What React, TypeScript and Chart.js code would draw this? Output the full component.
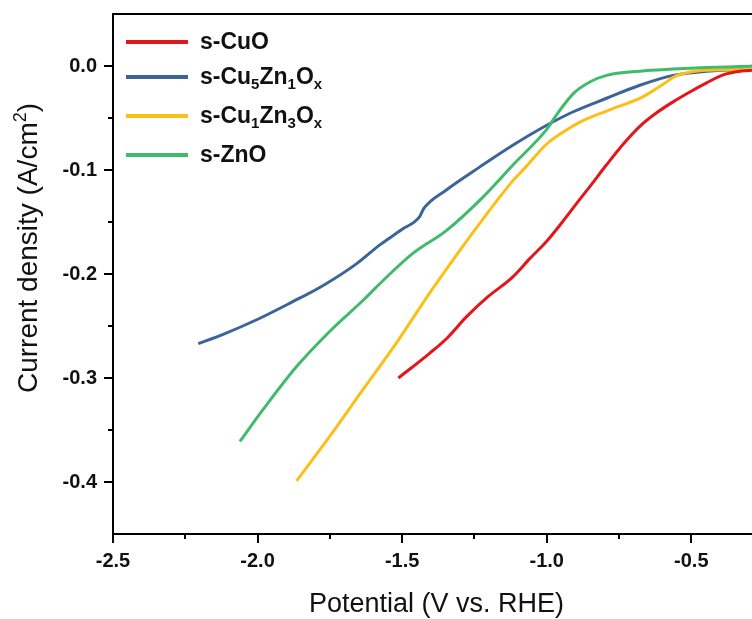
import React, { useEffect, useRef } from "react";
import { Chart, registerables } from "chart.js";

Chart.register(...registerables);

const xTicks = [-2.5, -2.0, -1.5, -1.0, -0.5];
const xMinorTicks = [-2.25, -1.75, -1.25, -0.75];
const yTicks = [0.0, -0.1, -0.2, -0.3, -0.4];
const yMinorTicks = [-0.05, -0.15, -0.25, -0.35];
const xMin = -2.5;
const xMax = -0.29;
const yMin = -0.45;
const yMax = 0.05;

const xTitle = "Potential (V vs. RHE)";
const yTitleMain = "Current density (A/cm";
const yTitleSup = "2";
const yTitleEnd = ")";

const cuoX = [-1.513, -1.404, -1.346, -1.277, -1.208, -1.116, -1.058, -1.0, -0.943, -0.885, -0.851, -0.793, -0.735, -0.678, -0.62, -0.563, -0.505, -0.447, -0.39, -0.332, -0.28];
const cuoY = [-0.3, -0.276, -0.262, -0.241, -0.223, -0.2025, -0.185, -0.1685, -0.149, -0.128, -0.116, -0.095, -0.075, -0.058, -0.045, -0.0345, -0.025, -0.0162, -0.0085, -0.005, -0.004];

const cu5X = [-2.205, -2.119, -2.003, -1.888, -1.773, -1.657, -1.577, -1.5, -1.44, -1.425, -1.346, -1.231, -1.116, -1.0, -0.908, -0.793, -0.678, -0.563, -0.447, -0.332, -0.28];
const cu5Y = [-0.267, -0.258, -0.244, -0.228, -0.211, -0.19, -0.172, -0.157, -0.145, -0.137, -0.119, -0.097, -0.076, -0.057, -0.044, -0.031, -0.0185, -0.009, -0.005, -0.0035, -0.003];

const cu1X = [-1.865, -1.75, -1.635, -1.519, -1.404, -1.289, -1.231, -1.116, -1.072, -1.0, -0.94, -0.885, -0.785, -0.668, -0.6, -0.553, -0.505, -0.447, -0.332, -0.28];
const cu1Y = [-0.399, -0.356, -0.311, -0.266, -0.218, -0.173, -0.151, -0.11, -0.097, -0.075, -0.063, -0.054, -0.0425, -0.0297, -0.018, -0.0095, -0.0058, -0.0041, -0.0035, -0.003];

const znoX = [-2.061, -1.98, -1.865, -1.75, -1.634, -1.565, -1.462, -1.346, -1.231, -1.116, -1.0, -0.966, -0.908, -0.851, -0.793, -0.678, -0.563, -0.447, -0.332, -0.28];
const znoY = [-0.361, -0.33, -0.289, -0.255, -0.225, -0.206, -0.18, -0.158, -0.129, -0.095, -0.061, -0.047, -0.0265, -0.0154, -0.009, -0.005, -0.003, -0.0015, -0.0005, 0];

const seriesNames = ["s-CuO", "s-Cu5Zn1Ox", "s-Cu1Zn3Ox", "s-ZnO"];
const legendParts: [string, boolean][][] = [
  [["s-CuO", false]],
  [["s-Cu", false], ["5", true], ["Zn", false], ["1", true], ["O", false], ["x", true]],
  [["s-Cu", false], ["1", true], ["Zn", false], ["3", true], ["O", false], ["x", true]],
  [["s-ZnO", false]],
];
const seriesColors = ["#e3161b", "#3b6597", "#fcbf17", "#40bb6b"];
const seriesX = [cuoX, cu5X, cu1X, znoX];
const seriesY = [cuoY, cu5Y, cu1Y, znoY];
const drawOrder = [1, 3, 2, 0];

const FONT = "Arial, 'Liberation Sans', Helvetica, sans-serif";

const overlayPlugin = {
  id: "overlay",
  afterDraw(chart: any) {
    const ctx = chart.ctx;
    const area = chart.chartArea;
    const xs = chart.scales.x;
    const ys = chart.scales.y;
    ctx.save();
    ctx.strokeStyle = "#000";
    ctx.lineWidth = 2;
    ctx.beginPath();
    ctx.moveTo(area.left - 1, area.top);
    ctx.lineTo(area.right + 1, area.top);
    ctx.stroke();
    for (const v of xMinorTicks) {
      const px = Math.round(xs.getPixelForValue(v));
      ctx.beginPath();
      ctx.moveTo(px, area.bottom);
      ctx.lineTo(px, area.bottom + 5);
      ctx.stroke();
    }
    for (const v of yMinorTicks) {
      const py = Math.round(ys.getPixelForValue(v));
      ctx.beginPath();
      ctx.moveTo(area.left, py);
      ctx.lineTo(area.left - 5, py);
      ctx.stroke();
    }
    const rowOffsets = [28, 63, 102, 141];
    legendParts.forEach((parts, i) => {
      const y = area.top + rowOffsets[i];
      ctx.strokeStyle = seriesColors[i];
      ctx.lineWidth = 4;
      ctx.beginPath();
      ctx.moveTo(area.left + 13, y);
      ctx.lineTo(area.left + 75, y);
      ctx.stroke();
      let x = area.left + 87;
      ctx.fillStyle = "#111";
      ctx.textAlign = "left";
      ctx.textBaseline = "middle";
      for (const [t, sub] of parts) {
        if (sub) {
          ctx.font = `bold 15px ${FONT}`;
          ctx.fillText(t, x, y + 8);
        } else {
          ctx.font = `bold 23px ${FONT}`;
          ctx.fillText(t, x, y + 1);
        }
        x += ctx.measureText(t).width;
      }
    });
    ctx.fillStyle = "#111";
    ctx.font = `27px ${FONT}`;
    ctx.textAlign = "center";
    ctx.textBaseline = "alphabetic";
    ctx.fillText(xTitle, (area.left + area.right) / 2 + 4, 612);
    ctx.save();
    ctx.translate(37, 248);
    ctx.rotate(-Math.PI / 2);
    ctx.font = `28px ${FONT}`;
    const w1 = ctx.measureText(yTitleMain).width;
    ctx.font = `18px ${FONT}`;
    const w2 = ctx.measureText(yTitleSup).width;
    ctx.font = `28px ${FONT}`;
    const w3 = ctx.measureText(yTitleEnd).width;
    const total = w1 + w2 + w3;
    let cx = -total / 2;
    ctx.textAlign = "left";
    ctx.fillText(yTitleMain, cx, 0);
    cx += w1;
    ctx.font = `18px ${FONT}`;
    ctx.fillText(yTitleSup, cx, -11);
    cx += w2;
    ctx.font = `28px ${FONT}`;
    ctx.fillText(yTitleEnd, cx, 0);
    ctx.restore();
    ctx.restore();
  },
};

export default function App() {
  const ref = useRef<HTMLCanvasElement | null>(null);
  useEffect(() => {
    if (!ref.current) return;
    const datasets = seriesNames.map((name, i) => ({
      label: name,
      data: seriesX[i].map((x, j) => ({ x, y: seriesY[i][j] })),
      borderColor: seriesColors[i],
      backgroundColor: seriesColors[i],
      borderWidth: 3,
      pointRadius: 0,
      fill: false,
      cubicInterpolationMode: "monotone" as const,
      order: drawOrder[i],
    }));
    const tickFont = { family: FONT, size: 20, weight: "bold" as const };
    const chart = new Chart(ref.current, {
      type: "line",
      data: { datasets },
      options: {
        responsive: false,
        animation: false,
        devicePixelRatio: 1,
        layout: { padding: { top: 14, right: 0, left: 0, bottom: 0 } },
        plugins: { legend: { display: false }, tooltip: { enabled: false } },
        scales: {
          x: {
            type: "linear",
            min: xMin,
            max: xMax,
            afterBuildTicks: (s: any) => {
              s.ticks = xTicks.map((v) => ({ value: v }));
            },
            afterFit: (s: any) => {
              s.height = 85;
              s.paddingLeft = 0;
              s.paddingRight = 0;
            },
            ticks: {
              font: tickFont,
              color: "#111",
              padding: 6,
              maxRotation: 0,
              autoSkip: false,
              callback: (v: any) => Number(v).toFixed(1),
            },
            grid: {
              display: true,
              drawOnChartArea: false,
              drawTicks: true,
              tickLength: 9,
              tickWidth: 2,
              tickColor: "#000",
              color: "#000",
              lineWidth: 2,
            },
            border: { display: true, color: "#000", width: 2 },
          },
          y: {
            type: "linear",
            min: yMin,
            max: yMax,
            afterBuildTicks: (s: any) => {
              s.ticks = yTicks.map((v) => ({ value: v }));
            },
            afterFit: (s: any) => {
              s.width = 113;
              s.paddingTop = 0;
              s.paddingBottom = 0;
            },
            ticks: {
              font: tickFont,
              color: "#111",
              padding: 7,
              autoSkip: false,
              callback: (v: any) => Number(v).toFixed(1),
            },
            grid: {
              display: true,
              drawOnChartArea: false,
              drawTicks: true,
              tickLength: 9,
              tickWidth: 2,
              tickColor: "#000",
              color: "#000",
              lineWidth: 2,
            },
            border: { display: true, color: "#000", width: 2 },
          },
        },
      },
      plugins: [overlayPlugin],
    });
    return () => chart.destroy();
  }, []);
  return (
    <div style={{ position: "absolute", left: 0, top: 0, width: 752, height: 619, background: "#fff" }}>
      <canvas ref={ref} width={752} height={619} style={{ display: "block" }} />
    </div>
  );
}
